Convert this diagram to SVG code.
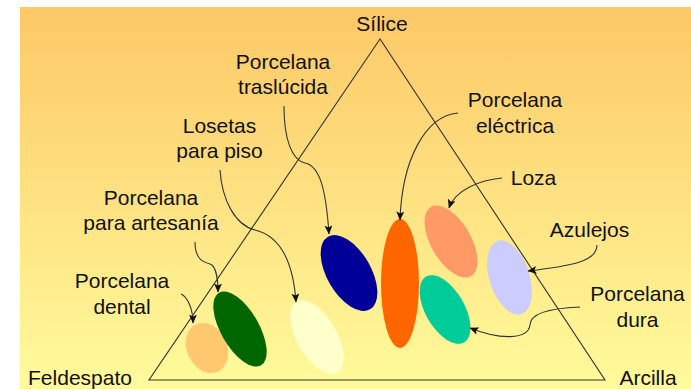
<svg xmlns="http://www.w3.org/2000/svg" width="691" height="389" viewBox="0 0 691 389">
<style>
text{font-family:"Liberation Sans",Arial,sans-serif;font-size:21px;fill:#111;text-anchor:middle}
.c{fill:none;stroke:#333;stroke-width:1.1}
.tri{fill:none;stroke:#333;stroke-width:1.1}
</style>
<defs>
<linearGradient id="bg" x1="0" y1="0" x2="0" y2="1">
<stop offset="0" stop-color="#FDC867"/>
<stop offset="1" stop-color="#FFFB9C"/>
</linearGradient>
<marker id="ah" markerWidth="9" markerHeight="8" refX="8.5" refY="4" orient="auto" markerUnits="userSpaceOnUse">
<path d="M0,0 L9,4 L0,8 L2,4 Z" fill="#111"/>
</marker>
</defs>
<rect width="691" height="389" fill="#fff"/>
<rect x="20" y="7" width="671" height="382" fill="url(#bg)"/>
<g id="triangle"><path class="tri" d="M380,39 L149,380 L605,380 Z"/></g>
<g id="ellipses">
<g id="dental-shape"><ellipse cx="207" cy="348" rx="20" ry="26" transform="rotate(-25 207 348)" fill="#FDC86E"/></g>
<g id="artesania-shape"><ellipse cx="240" cy="329" rx="19" ry="42" transform="rotate(-30 240 329)" fill="#006600"/></g>
<g id="losetas-shape"><ellipse cx="317" cy="337" rx="20" ry="41" transform="rotate(-30 317 337)" fill="#FFFFCC"/></g>
<g id="traslucida-shape"><ellipse cx="349" cy="273" rx="22" ry="42" transform="rotate(-30 349 273)" fill="#000099"/></g>
<g id="electrica-shape"><ellipse cx="400" cy="283.5" rx="19" ry="64.5" fill="#FF6600"/></g>
<g id="loza-shape"><ellipse cx="451" cy="241.5" rx="20" ry="40" transform="rotate(-30 451 241.5)" fill="#FF9966"/></g>
<g id="dura-shape"><ellipse cx="445" cy="309.5" rx="19.5" ry="38" transform="rotate(-30 445 309.5)" fill="#00CC99"/></g>
<g id="azulejos-shape"><ellipse cx="509.5" cy="277.5" rx="20" ry="38.5" transform="rotate(-18 509.5 277.5)" fill="#CCCCFF"/></g>
</g>
<g id="connectors">
<path class="c" marker-end="url(#ah)" d="M284,106 C284,140 292,160 305,163 C320,166 326,190 329,234"/>
<path class="c" marker-end="url(#ah)" d="M220,170 C222,200 235,225 255,230 C280,236 293,260 296,302"/>
<path class="c" marker-end="url(#ah)" d="M195,242 C195,258 202,262 210,264 C216,266 218,280 218,292"/>
<path class="c" marker-end="url(#ah)" d="M181,294 C188,297 193,310 193,323"/>
<path class="c" marker-end="url(#ah)" d="M458,113 C425,116 402,160 400,220"/>
<path class="c" marker-end="url(#ah)" d="M502,178 C480,180 455,190 449,208"/>
<path class="c" marker-end="url(#ah)" d="M597,245 C597,262 570,266 528,271"/>
<path class="c" marker-end="url(#ah)" d="M580,307 C555,308 530,312 530,325 C528,340 500,340 470,328"/>
</g>
<g id="labels">
<g id="silice"><text x="382" y="31">Sílice</text></g>
<g id="feldespato"><text x="80" y="385">Feldespato</text></g>
<g id="arcilla"><text x="648" y="385">Arcilla</text></g>
<g id="traslucida"><text x="283" y="69">Porcelana</text><text x="283" y="94">traslúcida</text></g>
<g id="losetas"><text x="219.5" y="133">Losetas</text><text x="219.5" y="158">para piso</text></g>
<g id="artesania"><text x="151" y="205">Porcelana</text><text x="151" y="230">para artesanía</text></g>
<g id="dental"><text x="122" y="288">Porcelana</text><text x="122" y="314">dental</text></g>
<g id="electrica"><text x="515" y="107">Porcelana</text><text x="515" y="133">eléctrica</text></g>
<g id="loza"><text x="533.5" y="185">Loza</text></g>
<g id="azulejos"><text x="589.5" y="237">Azulejos</text></g>
<g id="dura"><text x="637.5" y="301">Porcelana</text><text x="637.5" y="327">dura</text></g>
</g>
</svg>
